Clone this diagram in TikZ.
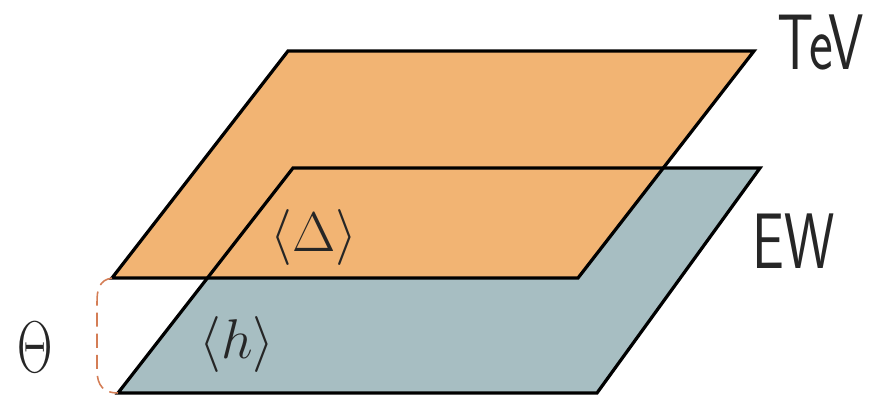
\documentclass[tikz,border=0pt]{standalone}
\usepackage{amsmath,amssymb}
\usepackage{fontspec}
\usepackage{tikz}
\usetikzlibrary{positioning}

\definecolor{tevfill}{RGB}{242,180,115}
\definecolor{ewfill}{RGB}{167,190,194}
\definecolor{gapline}{RGB}{212,125,85}

\newcommand{\bigmath}[2][1.6]{\scalebox{#1}{$#2$}}

\begin{document}
\begin{tikzpicture}[
    x=0.025cm, y=-0.025cm,
    plane/.style={draw=black, line width=2.3pt, line join=miter},
    lab/.style={font=\fontsize{56}{56}\selectfont\sffamily, text=black!85, inner sep=0pt, xscale=0.72},
    vev/.style={font=\Huge, text=black!85, inner sep=0pt},
    gap/.style={draw=gapline, line width=1.1pt, dash pattern=on 10pt off 5pt},
]
    \useasboundingbox (0,0) rectangle (877,396);

    % --- corners of the two planes ---
    \coordinate (tbl) at (112,278);
    \coordinate (ttl) at (288,51);
    \coordinate (ttr) at (754,51);
    \coordinate (tbr) at (578,278);
    \coordinate (ebl) at (118,393);
    \coordinate (etl) at (293,168);
    \coordinate (etr) at (760,168);
    \coordinate (ebr) at (597,393);

    % --- EW plane (below), TeV plane on top ---
    \fill[ewfill] (ebl) -- (etl) -- (etr) -- (ebr) -- cycle;
    \fill[tevfill] (tbl) -- (ttl) -- (ttr) -- (tbr) -- cycle;
    \draw[plane] (tbl) -- (ttl) -- (ttr) -- (tbr) -- cycle;
    \draw[plane] (ebl) -- (etl) -- (etr) -- (ebr) -- cycle;

    % --- labels ---
    \node[lab] (tev) at (821,42) {TeV};
    \node[lab] (ew) at (794,241) {EW};
    \node[vev] (delta) at (314,238) {\bigmath{\langle\Delta\rangle}};
    \node[vev] (higgs) at (237,345) {\bigmath{\langle h\rangle}};
    \node[vev] (theta) at (35,347) {\scalebox{1.4}[2.1]{$\Theta$}};

    % --- gap between the planes ---
    \draw[gap] (tbl) .. controls (99,280) and (97,290) .. (97,302)
        -- (97,370) .. controls (97,386) and (104,393) .. (ebl);

\end{tikzpicture}
\end{document}
